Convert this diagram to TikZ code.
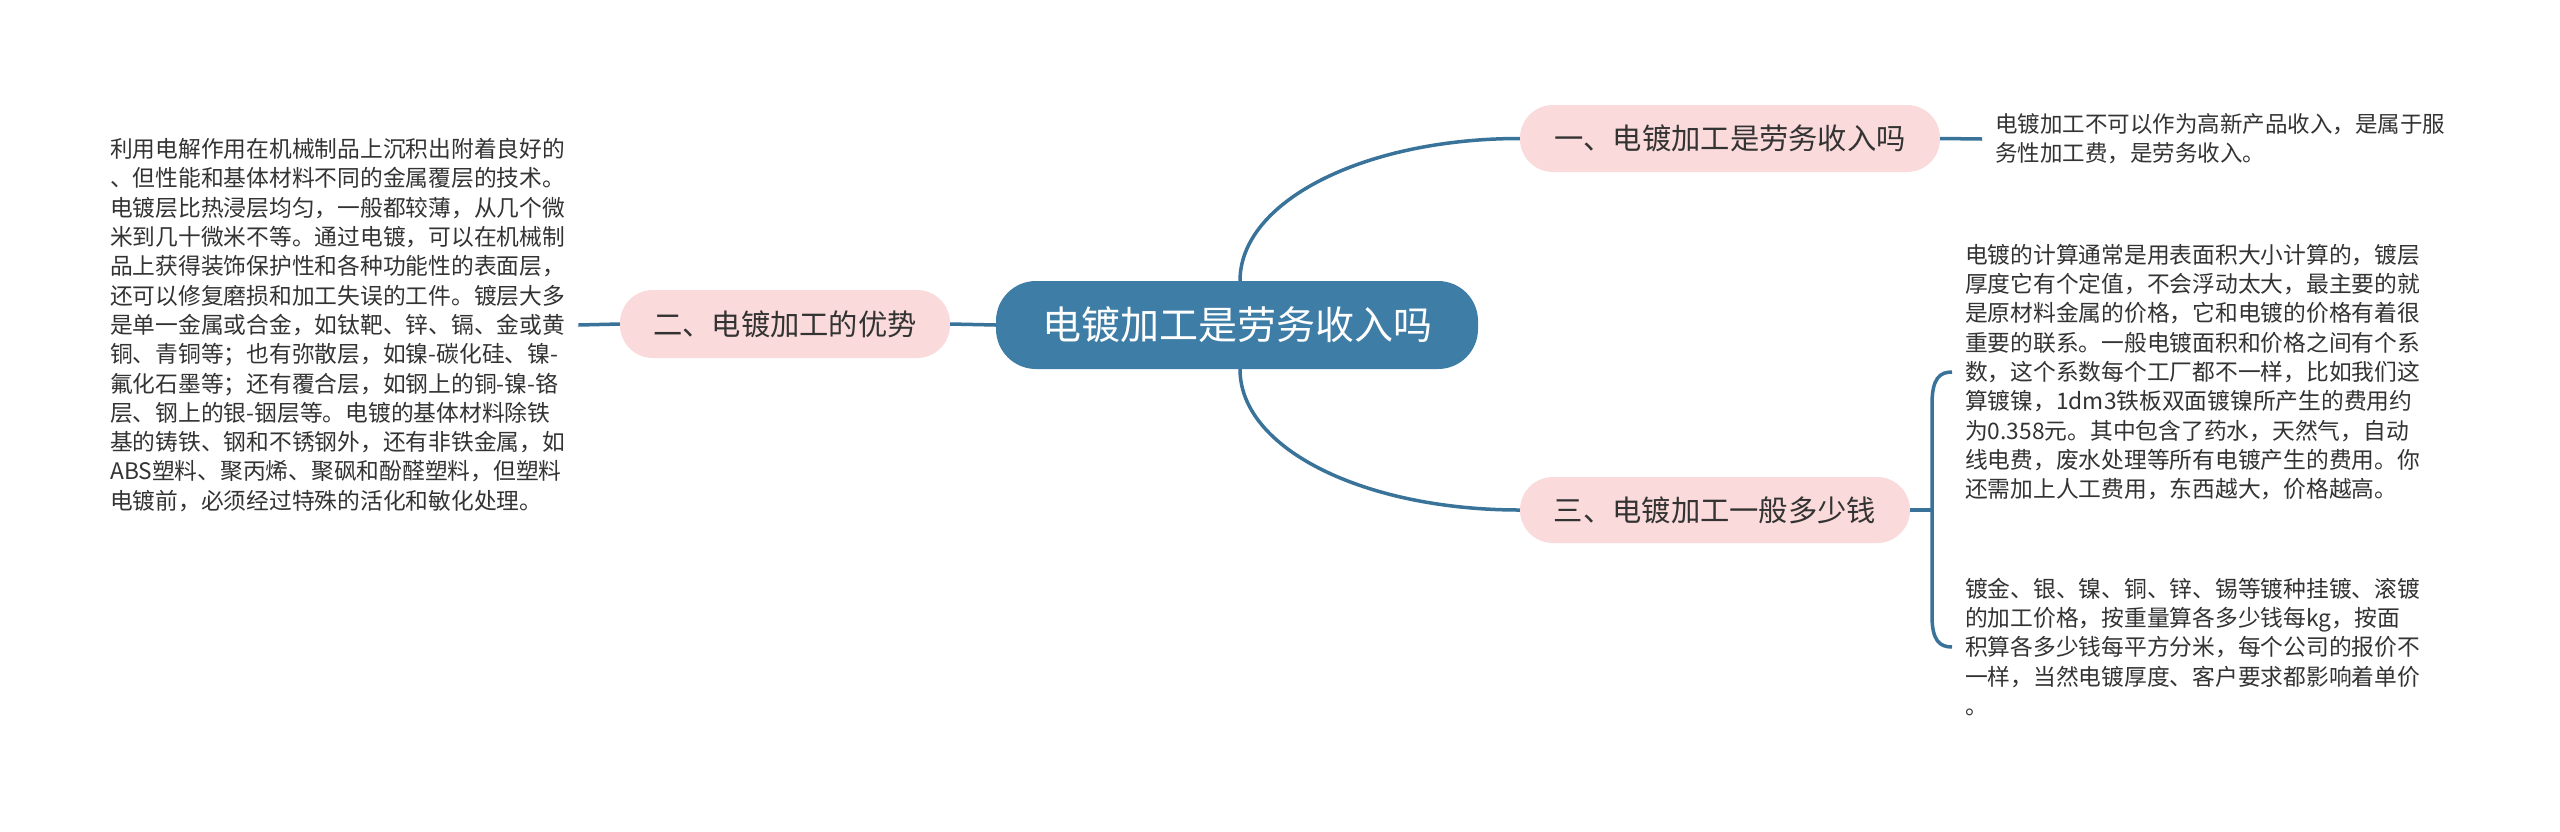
\documentclass[tikz,border=0pt]{standalone}
\usepackage{fontspec}
\setmainfont{Noto Sans CJK SC}
\usetikzlibrary{calc}
\definecolor{cblue}{HTML}{3E7DA5}
\definecolor{lblue}{HTML}{3A7399}
\definecolor{pinkfill}{HTML}{FADADA}
\definecolor{txt}{HTML}{333333}
\tikzset{
  link/.style={draw=lblue, line width=3.5pt},
  rootbox/.style={fill=cblue, text=white, rounded corners=40pt, inner sep=0pt,
    font=\fontsize{39}{46}\selectfont},
  topicbox/.style={fill=pinkfill, text=txt, rounded corners=33pt, inner sep=0pt,
    font=\fontsize{29.3}{35}\selectfont},
  bodytext/.style={text=txt, align=left, inner xsep=13pt, inner ysep=0pt, anchor=west,
    font=\fontsize{22.75}{29.3}\selectfont},
}
\begin{document}
\begin{tikzpicture}[x=1pt, y=-1pt]
\useasboundingbox (0,0) rectangle (2560,831);
\fill[white] (0,0) rectangle (2560,831);

\node[rootbox, minimum width=482pt, minimum height=88pt] (c) at (1237,325) {电镀加工是劳务收入吗};
\node[topicbox, minimum width=420pt, minimum height=67pt] (n1) at (1730,138.5) {一、电镀加工是劳务收入吗};
\node[topicbox, minimum width=330pt, minimum height=68pt] (n2) at (785,324) {二、电镀加工的优势};
\node[topicbox, minimum width=390pt, minimum height=66pt] (n3) at (1715,510) {三、电镀加工一般多少钱};

\node[bodytext, font=\fontsize{22.5}{29}\selectfont] (t1) at (1982,139) {电镀加工不可以作为高新产品收入，是属于服\\务性加工费，是劳务收入。};

\node[bodytext] (lt) at (97,325) {利用电解作用在机械制品上沉积出附着良好的\\、但性能和基体材料不同的金属覆层的技术。\\电镀层比热浸层均匀，一般都较薄，从几个微\\米到几十微米不等。通过电镀，可以在机械制\\品上获得装饰保护性和各种功能性的表面层，\\还可以修复磨损和加工失误的工件。镀层大多\\是单一金属或合金，如钛靶、锌、镉、金或黄\\铜、青铜等；也有弥散层，如镍-碳化硅、镍-\\氟化石墨等；还有覆合层，如钢上的铜-镍-铬\\层、钢上的银-铟层等。电镀的基体材料除铁\\基的铸铁、钢和不锈钢外，还有非铁金属，如\\ABS塑料、聚丙烯、聚砜和酚醛塑料，但塑料\\电镀前，必须经过特殊的活化和敏化处理。};

\node[bodytext] (t2) at (1952,372) {电镀的计算通常是用表面积大小计算的，镀层\\厚度它有个定值，不会浮动太大，最主要的就\\是原材料金属的价格，它和电镀的价格有着很\\重要的联系。一般电镀面积和价格之间有个系\\数，这个系数每个工厂都不一样，比如我们这\\算镀镍，1dm3铁板双面镀镍所产生的费用约\\为0.358元。其中包含了药水，天然气，自动\\线电费，废水处理等所有电镀产生的费用。你\\还需加上人工费用，东西越大，价格越高。};

\node[bodytext] (t3) at (1952,647) {镀金、银、镍、铜、锌、锡等镀种挂镀、滚镀\\的加工价格，按重量算各多少钱每kg，按面\\积算各多少钱每平方分米，每个公司的报价不\\一样，当然电镀厚度、客户要求都影响着单价\\。};

\coordinate (br) at (1932,510);

\draw[link] (c.west) -- (n2.east);
\draw[link] (n2.west) -- (lt.east);
\draw[link] ($(c.north)+(3,0)$) .. controls ($(c.north)+(3,-80)$) and ($(n1.west)+(-155,0)$) .. (n1.west);
\draw[link] ($(c.south)+(3,0)$) .. controls ($(c.south)+(3,80)$) and ($(n3.west)+(-155,0)$) .. (n3.west);
\draw[link] (n1.east) -- (t1.west);
\draw[link] (n3.east) -- (br);
\draw[link] (br) -- ($(br)+(0,-106)$) .. controls ($(br)+(0,-132)$) and ($(t2.west)+(-12,0)$) .. (t2.west);
\draw[link] (br) -- ($(br)+(0,106)$) .. controls ($(br)+(0,131)$) and ($(t3.west)+(-12,0)$) .. (t3.west);
\end{tikzpicture}
\end{document}
